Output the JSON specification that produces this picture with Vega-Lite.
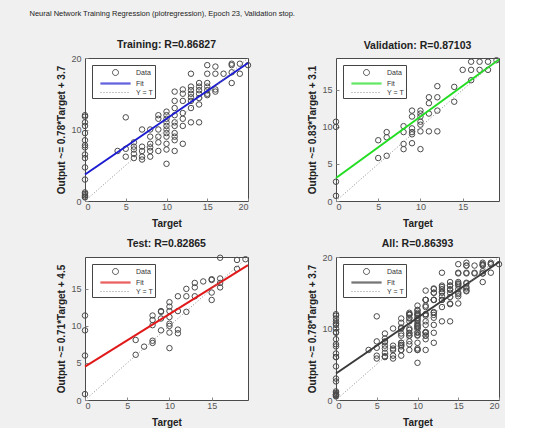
{
  "$schema": "https://vega.github.io/schema/vega-lite/v6.json",
  "background": "#f0f0f0",
  "padding": {"left": 29, "top": 9, "right": 0, "bottom": 0},
  "title": {"text": "Neural Network Training Regression (plotregression), Epoch 23, Validation stop.", "anchor": "start", "fontSize": 7.5, "fontWeight": "normal", "font": "Liberation Sans", "color": "#222222", "dx": -27, "offset": 22},
  "datasets": {
    "points": [
      {"s":"train","t":0,"o":0.5},{"s":"train","t":0,"o":0.8},{"s":"train","t":0,"o":1},{"s":"train","t":0,"o":1.2},{"s":"train","t":0,"o":0.6},{"s":"train","t":0,"o":3},{"s":"train","t":0,"o":4.7},{"s":"train","t":0,"o":6},{"s":"train","t":0,"o":6.5},{"s":"train","t":0,"o":7.5},{"s":"train","t":0,"o":7.8},{"s":"train","t":0,"o":8.5},{"s":"train","t":0,"o":9.5},{"s":"train","t":0,"o":10.5},{"s":"train","t":0,"o":11},{"s":"train","t":0,"o":11.8},{"s":"train","t":0,"o":12},
      {"s":"train","t":4,"o":7},{"s":"train","t":5,"o":11.7},{"s":"train","t":5,"o":6.2},{"s":"train","t":5,"o":7.3},
      {"s":"train","t":6,"o":6},{"s":"train","t":6,"o":6.6},{"s":"train","t":6,"o":7.2},{"s":"train","t":6,"o":7.6},{"s":"train","t":6,"o":8.2},
      {"s":"train","t":7,"o":5.8},{"s":"train","t":7,"o":6.2},{"s":"train","t":7,"o":7},{"s":"train","t":7,"o":7.6},{"s":"train","t":7,"o":10},
      {"s":"train","t":8,"o":6.2},{"s":"train","t":8,"o":7},{"s":"train","t":8,"o":7.5},{"s":"train","t":8,"o":8},{"s":"train","t":8,"o":9},{"s":"train","t":8,"o":10},
      {"s":"train","t":9,"o":7},{"s":"train","t":9,"o":8.2},{"s":"train","t":9,"o":9},{"s":"train","t":9,"o":10},{"s":"train","t":9,"o":11.5},{"s":"train","t":9,"o":12},
      {"s":"train","t":10,"o":5.2},{"s":"train","t":10,"o":7.2},{"s":"train","t":10,"o":8},{"s":"train","t":10,"o":9},{"s":"train","t":10,"o":9.5},{"s":"train","t":10,"o":10},{"s":"train","t":10,"o":10.5},{"s":"train","t":10,"o":11},{"s":"train","t":10,"o":11.5},{"s":"train","t":10,"o":12},{"s":"train","t":10,"o":12.5},
      {"s":"train","t":11,"o":7},{"s":"train","t":11,"o":8.5},{"s":"train","t":11,"o":9},{"s":"train","t":11,"o":9.5},{"s":"train","t":11,"o":10.5},{"s":"train","t":11,"o":11},{"s":"train","t":11,"o":12},{"s":"train","t":11,"o":13},{"s":"train","t":11,"o":14},{"s":"train","t":11,"o":15.3},
      {"s":"train","t":12,"o":8},{"s":"train","t":12,"o":10.5},{"s":"train","t":12,"o":11.5},{"s":"train","t":12,"o":12.3},{"s":"train","t":12,"o":14},{"s":"train","t":12,"o":15},{"s":"train","t":12,"o":15.6},
      {"s":"train","t":13,"o":11},{"s":"train","t":13,"o":13},{"s":"train","t":13,"o":14},{"s":"train","t":13,"o":14.5},{"s":"train","t":13,"o":15},{"s":"train","t":13,"o":15.5},{"s":"train","t":13,"o":16},{"s":"train","t":13,"o":17.8},
      {"s":"train","t":14,"o":11},{"s":"train","t":14,"o":13.5},{"s":"train","t":14,"o":14.4},{"s":"train","t":14,"o":15},{"s":"train","t":14,"o":15.5},{"s":"train","t":14,"o":16},{"s":"train","t":14,"o":16.5},
      {"s":"train","t":15,"o":14.8},{"s":"train","t":15,"o":15},{"s":"train","t":15,"o":15.5},{"s":"train","t":15,"o":16},{"s":"train","t":15,"o":16.5},{"s":"train","t":15,"o":17.8},{"s":"train","t":15,"o":19},
      {"s":"train","t":16,"o":15.3},{"s":"train","t":16,"o":15.6},{"s":"train","t":16,"o":17.8},{"s":"train","t":16,"o":18.8},
      {"s":"train","t":17,"o":17.8},
      {"s":"train","t":18,"o":16.5},{"s":"train","t":18,"o":18},{"s":"train","t":18,"o":19},{"s":"train","t":18,"o":19.2},
      {"s":"train","t":19,"o":17.8},{"s":"train","t":19,"o":19.2},{"s":"train","t":20,"o":19},
      {"s":"val","t":0,"o":0.7},{"s":"val","t":0,"o":2.6},{"s":"val","t":0,"o":10},{"s":"val","t":0,"o":10.7},
      {"s":"val","t":5,"o":5.8},{"s":"val","t":5,"o":8.2},
      {"s":"val","t":6,"o":6.1},{"s":"val","t":6,"o":8.6},{"s":"val","t":6,"o":9.3},
      {"s":"val","t":8,"o":7},{"s":"val","t":8,"o":7.7},{"s":"val","t":8,"o":9.3},{"s":"val","t":8,"o":10.1},
      {"s":"val","t":9,"o":7.8},{"s":"val","t":9,"o":9},{"s":"val","t":9,"o":9.3},{"s":"val","t":9,"o":9.8},{"s":"val","t":9,"o":11.4},{"s":"val","t":9,"o":12.2},
      {"s":"val","t":10,"o":7},{"s":"val","t":10,"o":9.4},{"s":"val","t":10,"o":10.3},{"s":"val","t":10,"o":10.7},{"s":"val","t":10,"o":11.4},{"s":"val","t":10,"o":11.8},{"s":"val","t":10,"o":12.2},
      {"s":"val","t":11,"o":9.4},{"s":"val","t":11,"o":11.8},{"s":"val","t":11,"o":13.2},{"s":"val","t":11,"o":14},
      {"s":"val","t":12,"o":9.4},{"s":"val","t":12,"o":12.2},{"s":"val","t":12,"o":14},{"s":"val","t":12,"o":15.5},
      {"s":"val","t":14,"o":13.4},{"s":"val","t":14,"o":15.4},{"s":"val","t":15,"o":17.7},
      {"s":"val","t":16,"o":16.3},{"s":"val","t":16,"o":17.7},{"s":"val","t":16,"o":18.8},
      {"s":"val","t":17,"o":17.7},{"s":"val","t":17,"o":18.8},{"s":"val","t":18,"o":17.7},{"s":"val","t":18,"o":18.8},{"s":"val","t":19,"o":19},
      {"s":"test","t":0,"o":0.8},{"s":"test","t":0,"o":6},{"s":"test","t":0,"o":9.4},{"s":"test","t":0,"o":11.4},
      {"s":"test","t":6,"o":6.1},{"s":"test","t":6,"o":8.1},{"s":"test","t":7,"o":7.2},
      {"s":"test","t":8,"o":7.7},{"s":"test","t":8,"o":8},{"s":"test","t":8,"o":10.1},{"s":"test","t":8,"o":10.8},{"s":"test","t":8,"o":11.4},
      {"s":"test","t":9,"o":9.4},{"s":"test","t":9,"o":11},{"s":"test","t":9,"o":11.9},{"s":"test","t":9,"o":12},
      {"s":"test","t":10,"o":7},{"s":"test","t":10,"o":9.1},{"s":"test","t":10,"o":10},{"s":"test","t":10,"o":10.3},{"s":"test","t":10,"o":11.2},{"s":"test","t":10,"o":12},{"s":"test","t":10,"o":12.6},{"s":"test","t":10,"o":13.2},
      {"s":"test","t":11,"o":9},{"s":"test","t":11,"o":9.5},{"s":"test","t":11,"o":12},{"s":"test","t":11,"o":14},
      {"s":"test","t":12,"o":11.9},{"s":"test","t":12,"o":14},{"s":"test","t":12,"o":15},
      {"s":"test","t":13,"o":14},{"s":"test","t":13,"o":15.2},{"s":"test","t":13,"o":15.8},{"s":"test","t":14,"o":16},
      {"s":"test","t":15,"o":13.5},{"s":"test","t":15,"o":14.5},{"s":"test","t":15,"o":16.2},{"s":"test","t":15,"o":16.3},
      {"s":"test","t":16,"o":15.2},{"s":"test","t":16,"o":15.8},{"s":"test","t":16,"o":16.4},{"s":"test","t":16,"o":19.2},
      {"s":"test","t":18,"o":17.7},{"s":"test","t":18,"o":18.9},{"s":"test","t":19,"o":19}
    ],
    "lines": [
      {"p":"train","k":"Fit","t":0,"o":3.7},{"p":"train","k":"Fit","t":20,"o":19.3},
      {"p":"train","k":"Y = T","t":0,"o":0},{"p":"train","k":"Y = T","t":20,"o":20},
      {"p":"val","k":"Fit","t":0,"o":3.1},{"p":"val","k":"Fit","t":19.3,"o":19.1},
      {"p":"val","k":"Y = T","t":0,"o":0},{"p":"val","k":"Y = T","t":19.3,"o":19.3},
      {"p":"test","k":"Fit","t":0,"o":4.5},{"p":"test","k":"Fit","t":19.3,"o":18.2},
      {"p":"test","k":"Y = T","t":0,"o":0},{"p":"test","k":"Y = T","t":19.3,"o":19.3},
      {"p":"all","k":"Fit","t":0,"o":3.7},{"p":"all","k":"Fit","t":20,"o":19.3},
      {"p":"all","k":"Y = T","t":0,"o":0},{"p":"all","k":"Y = T","t":20,"o":20}
    ]
  },
  "columns": 2,
  "spacing": {"column": 53, "row": 9},
  "resolve": {"scale": {"color": "independent", "x": "independent", "y": "independent"}, "legend": {"color": "independent"}},
  "concat": [
    {
      "width": 163, "height": 143,
      "title": "Training: R=0.86827",
      "layer": [
        {"data": {"name": "points"}, "transform": [{"filter": "datum.s === 'train'"}],
         "mark": {"type": "point", "shape": "circle", "filled": false, "size": 30, "strokeWidth": 1, "opacity": 1, "clip": false},
         "encoding": {
           "x": {"field": "t", "type": "quantitative", "scale": {"domain": [0, 20], "nice": false}, "axis": {"title": "Target", "values": [0, 5, 10, 15, 20]}},
           "y": {"field": "o", "type": "quantitative", "scale": {"domain": [0, 20], "nice": false}, "axis": {"title": "Output ~= 0.78*Target + 3.7", "values": [0, 5, 10, 15, 20]}},
           "color": {"datum": "Data", "scale": {"domain": ["Data", "Fit", "Y = T"], "range": ["#4a4a4a", "#1c1cd0", "#8c8c8c"]},
             "legend": {
               "symbolType": {"expr": "datum.value === 'Data' ? 'M-0.6,0A0.6,0.6,0,1,1,0.6,0A0.6,0.6,0,1,1,-0.6,0Z' : datum.value === 'Fit' ? 'M-3,-0.1H3M-3,0.1H3' : 'M-3,0H3'"},
               "symbolDash": {"expr": "datum.value === 'Y = T' ? [1, 2] : [1, 0]"}}}
         }},
        {"data": {"name": "lines"}, "transform": [{"filter": "datum.p === 'train' && datum.k === 'Fit'"}],
         "mark": {"type": "line", "strokeWidth": 2},
         "encoding": {"x": {"field": "t", "type": "quantitative"}, "y": {"field": "o", "type": "quantitative"}, "color": {"datum": "Fit"}}},
        {"data": {"name": "lines"}, "transform": [{"filter": "datum.p === 'train' && datum.k === 'Y = T'"}],
         "mark": {"type": "line", "strokeWidth": 1, "strokeDash": [1, 2]},
         "encoding": {"x": {"field": "t", "type": "quantitative"}, "y": {"field": "o", "type": "quantitative"}, "color": {"datum": "Y = T"}}}
      ]
    },
    {
      "width": 163, "height": 143,
      "title": "Validation: R=0.87103",
      "layer": [
        {"data": {"name": "points"}, "transform": [{"filter": "datum.s === 'val'"}],
         "mark": {"type": "point", "shape": "circle", "filled": false, "size": 30, "strokeWidth": 1, "opacity": 1, "clip": false},
         "encoding": {
           "x": {"field": "t", "type": "quantitative", "scale": {"domain": [0, 19.3], "nice": false}, "axis": {"title": "Target", "values": [0, 5, 10, 15]}},
           "y": {"field": "o", "type": "quantitative", "scale": {"domain": [0, 19.3], "nice": false}, "axis": {"title": "Output ~= 0.83*Target + 3.1", "values": [0, 5, 10, 15]}},
           "color": {"datum": "Data", "scale": {"domain": ["Data", "Fit", "Y = T"], "range": ["#4a4a4a", "#22dd22", "#8c8c8c"]},
             "legend": {
               "symbolType": {"expr": "datum.value === 'Data' ? 'M-0.6,0A0.6,0.6,0,1,1,0.6,0A0.6,0.6,0,1,1,-0.6,0Z' : datum.value === 'Fit' ? 'M-3,-0.1H3M-3,0.1H3' : 'M-3,0H3'"},
               "symbolDash": {"expr": "datum.value === 'Y = T' ? [1, 2] : [1, 0]"}}}
         }},
        {"data": {"name": "lines"}, "transform": [{"filter": "datum.p === 'val' && datum.k === 'Fit'"}],
         "mark": {"type": "line", "strokeWidth": 2},
         "encoding": {"x": {"field": "t", "type": "quantitative"}, "y": {"field": "o", "type": "quantitative"}, "color": {"datum": "Fit"}}},
        {"data": {"name": "lines"}, "transform": [{"filter": "datum.p === 'val' && datum.k === 'Y = T'"}],
         "mark": {"type": "line", "strokeWidth": 1, "strokeDash": [1, 2]},
         "encoding": {"x": {"field": "t", "type": "quantitative"}, "y": {"field": "o", "type": "quantitative"}, "color": {"datum": "Y = T"}}}
      ]
    },
    {
      "width": 163, "height": 143,
      "title": "Test: R=0.82865",
      "layer": [
        {"data": {"name": "points"}, "transform": [{"filter": "datum.s === 'test'"}],
         "mark": {"type": "point", "shape": "circle", "filled": false, "size": 30, "strokeWidth": 1, "opacity": 1, "clip": false},
         "encoding": {
           "x": {"field": "t", "type": "quantitative", "scale": {"domain": [0, 19.3], "nice": false}, "axis": {"title": "Target", "values": [0, 5, 10, 15]}},
           "y": {"field": "o", "type": "quantitative", "scale": {"domain": [0, 19.3], "nice": false}, "axis": {"title": "Output ~= 0.71*Target + 4.5", "values": [0, 5, 10, 15]}},
           "color": {"datum": "Data", "scale": {"domain": ["Data", "Fit", "Y = T"], "range": ["#4a4a4a", "#e01a1a", "#8c8c8c"]},
             "legend": {
               "symbolType": {"expr": "datum.value === 'Data' ? 'M-0.6,0A0.6,0.6,0,1,1,0.6,0A0.6,0.6,0,1,1,-0.6,0Z' : datum.value === 'Fit' ? 'M-3,-0.1H3M-3,0.1H3' : 'M-3,0H3'"},
               "symbolDash": {"expr": "datum.value === 'Y = T' ? [1, 2] : [1, 0]"}}}
         }},
        {"data": {"name": "lines"}, "transform": [{"filter": "datum.p === 'test' && datum.k === 'Fit'"}],
         "mark": {"type": "line", "strokeWidth": 2},
         "encoding": {"x": {"field": "t", "type": "quantitative"}, "y": {"field": "o", "type": "quantitative"}, "color": {"datum": "Fit"}}},
        {"data": {"name": "lines"}, "transform": [{"filter": "datum.p === 'test' && datum.k === 'Y = T'"}],
         "mark": {"type": "line", "strokeWidth": 1, "strokeDash": [1, 2]},
         "encoding": {"x": {"field": "t", "type": "quantitative"}, "y": {"field": "o", "type": "quantitative"}, "color": {"datum": "Y = T"}}}
      ]
    },
    {
      "width": 163, "height": 143,
      "title": "All: R=0.86393",
      "layer": [
        {"data": {"name": "points"},
         "mark": {"type": "point", "shape": "circle", "filled": false, "size": 30, "strokeWidth": 1, "opacity": 1, "clip": false},
         "encoding": {
           "x": {"field": "t", "type": "quantitative", "scale": {"domain": [0, 20], "nice": false}, "axis": {"title": "Target", "values": [0, 5, 10, 15, 20]}},
           "y": {"field": "o", "type": "quantitative", "scale": {"domain": [0, 20], "nice": false}, "axis": {"title": "Output ~= 0.78*Target + 3.7", "values": [0, 5, 10, 15, 20]}},
           "color": {"datum": "Data", "scale": {"domain": ["Data", "Fit", "Y = T"], "range": ["#4a4a4a", "#3a3a3a", "#8c8c8c"]},
             "legend": {
               "symbolType": {"expr": "datum.value === 'Data' ? 'M-0.6,0A0.6,0.6,0,1,1,0.6,0A0.6,0.6,0,1,1,-0.6,0Z' : datum.value === 'Fit' ? 'M-3,-0.1H3M-3,0.1H3' : 'M-3,0H3'"},
               "symbolDash": {"expr": "datum.value === 'Y = T' ? [1, 2] : [1, 0]"}}}
         }},
        {"data": {"name": "lines"}, "transform": [{"filter": "datum.p === 'all' && datum.k === 'Fit'"}],
         "mark": {"type": "line", "strokeWidth": 2},
         "encoding": {"x": {"field": "t", "type": "quantitative"}, "y": {"field": "o", "type": "quantitative"}, "color": {"datum": "Fit"}}},
        {"data": {"name": "lines"}, "transform": [{"filter": "datum.p === 'all' && datum.k === 'Y = T'"}],
         "mark": {"type": "line", "strokeWidth": 1, "strokeDash": [1, 2]},
         "encoding": {"x": {"field": "t", "type": "quantitative"}, "y": {"field": "o", "type": "quantitative"}, "color": {"datum": "Y = T"}}}
      ]
    }
  ],
  "config": {
    "font": "Liberation Sans",
    "view": {"stroke": "#4a4a4a", "strokeWidth": 1, "fill": "white"},
    "axis": {"grid": false, "domain": false, "labelFont": "Liberation Sans", "labelFontSize": 9, "labelColor": "#555555", "titleFont": "Liberation Sans", "titleFontSize": 10, "titleFontWeight": "bold", "titleColor": "#222222", "tickSize": -3, "tickColor": "#888888"},
    "axisX": {"labelPadding": 4, "titlePadding": 7},
    "axisY": {"labelPadding": 7, "titlePadding": 4},
    "title": {"font": "Liberation Sans", "fontSize": 10.5, "fontWeight": "bold", "color": "#222222", "offset": 4},
    "legend": {
      "orient": "top-left", "offset": 7, "title": null, "fillColor": "white", "strokeColor": "#444444", "padding": 2,
      "labelFont": "Liberation Sans", "labelFontSize": 7, "labelColor": "#333333", "symbolSize": 100, "symbolStrokeWidth": 1, "symbolOffset": 16, "rowPadding": 0, "labelOffset": 15
    }
  }
}
